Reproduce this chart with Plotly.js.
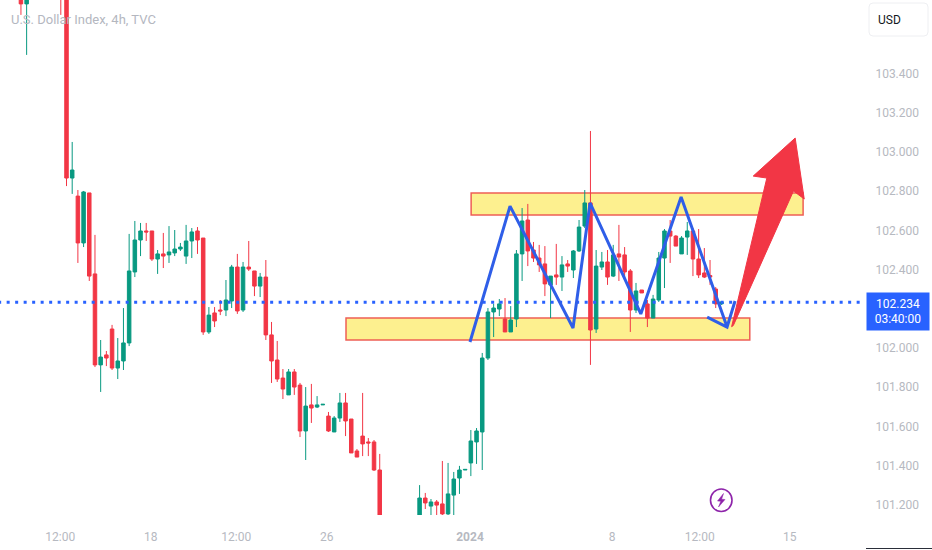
<!DOCTYPE html>
<html>
<head>
<meta charset="utf-8">
<script src="https://cdn.plot.ly/plotly-3.0.1.min.js"></script>
<style>html,body{margin:0;padding:0;background:#fff;overflow:hidden}#chart{width:932px;height:550px}</style>
</head>
<body>
<div id="chart"></div>
<script>
// Candle values (bar index starts at firstBar)
const firstBar = -8;
const openP = [103.80,103.755,103.82,103.90,103.98,103.94,104.00,103.95,103.80,102.867,102.775,102.536,102.791,102.378,101.914,101.965,102.097,101.898,101.934,102.026,102.388,102.551,102.597,102.597,102.454,102.480,102.475,102.485,102.505,102.469,102.546,102.597,102.561,102.082,102.179,102.194,102.194,102.240,102.413,102.194,102.413,102.393,102.316,102.362,102.067,101.939,101.847,101.761,101.878,101.811,101.577,101.710,101.699,101.710,101.653,101.572,101.643,101.720,101.638,101.475,101.551,101.521,101.521,101.378,101.10,101.05,101.00,101.03,100.99,101.04,101.08,101.235,101.194,101.215,101.205,101.154,101.250,101.337,101.378,101.414,101.521,101.572,101.949,102.184,102.199,102.148,102.082,102.148,102.480,102.653,102.500,102.459,102.429,102.322,102.373,102.362,102.429,102.398,102.495,102.622,102.740,102.097,102.413,102.439,102.367,102.480,102.475,102.393,102.194,102.296,102.225,102.153,102.245,102.459,102.597,102.571,102.480,102.566,102.597,102.454,102.383,102.370,102.301,102.225];
const highP = [103.90,103.85,103.95,104.02,104.03,104.05,104.06,103.98,103.85,103.051,102.806,102.801,102.791,102.577,102.041,101.985,102.118,102.051,102.204,102.582,102.648,102.638,102.638,102.597,102.500,102.587,102.622,102.602,102.536,102.628,102.612,102.617,102.561,102.209,102.209,102.245,102.347,102.424,102.480,102.439,102.546,102.393,102.383,102.449,102.133,102.036,101.893,101.893,101.893,101.822,101.801,101.817,101.755,101.713,101.674,101.653,101.771,101.771,101.638,101.485,101.771,101.541,101.531,101.460,101.13,101.09,101.08,101.07,101.09,101.12,101.301,101.261,101.230,101.225,101.424,101.414,101.368,101.399,101.381,101.582,101.592,101.975,102.204,102.225,102.250,102.255,102.214,102.500,102.714,102.735,102.541,102.526,102.520,102.367,102.531,102.469,102.449,102.500,102.653,102.806,103.107,102.500,102.490,102.500,102.526,102.628,102.515,102.403,102.332,102.296,102.245,102.271,102.490,102.607,102.653,102.576,102.571,102.643,102.612,102.607,102.510,102.449,102.311,102.24];
const lowP = [103.699,103.495,103.79,103.86,103.90,103.91,103.90,103.699,102.826,102.786,102.434,102.515,102.342,101.903,101.776,101.908,101.888,101.842,101.888,102.010,102.362,102.469,102.546,102.444,102.378,102.408,102.434,102.469,102.495,102.429,102.459,102.480,102.067,102.072,102.107,102.168,102.163,102.204,102.174,102.184,102.393,102.265,102.260,102.041,101.822,101.827,101.740,101.761,101.761,101.546,101.429,101.618,101.694,101.710,101.572,101.572,101.623,101.551,101.465,101.444,101.449,101.449,101.373,101.06,101.02,100.97,100.96,100.95,100.97,101.00,101.05,101.179,101.12,101.12,101.12,101.12,101.12,101.256,101.378,101.347,101.409,101.378,101.939,102.056,102.163,102.082,102.082,102.107,102.342,102.418,102.439,102.388,102.265,102.153,102.322,102.291,102.388,102.357,102.490,102.612,101.914,102.077,102.398,102.322,102.362,102.342,102.347,102.082,102.179,102.281,102.107,102.153,102.235,102.306,102.434,102.520,102.480,102.475,102.367,102.357,102.357,102.322,102.204,102.22];
const closeP = [103.755,103.80,103.90,103.98,103.94,104.00,103.95,103.80,102.867,102.908,102.536,102.796,102.367,101.914,101.954,101.949,101.898,101.934,102.026,102.393,102.551,102.597,102.592,102.454,102.480,102.469,102.490,102.505,102.515,102.546,102.592,102.551,102.082,102.168,102.138,102.189,102.245,102.413,102.189,102.413,102.403,102.316,102.362,102.067,101.934,101.842,101.791,101.878,101.801,101.577,101.704,101.694,101.710,101.713,101.577,101.643,101.720,101.628,101.465,101.444,101.511,101.516,101.378,101.10,101.05,101.00,101.03,100.99,101.04,101.08,101.235,101.210,101.215,101.199,101.154,101.256,101.332,101.378,101.381,101.526,101.577,101.949,102.184,102.204,102.225,102.082,102.143,102.480,102.648,102.495,102.459,102.424,102.327,102.367,102.362,102.424,102.418,102.495,102.617,102.740,102.092,102.418,102.439,102.362,102.475,102.464,102.388,102.194,102.291,102.281,102.153,102.250,102.459,102.597,102.571,102.520,102.561,102.597,102.454,102.373,102.362,102.362,102.225,102.235];

const lastPrice = 102.234;
const timeTickBars = [-1.1, 14.8, 29.8, 45.7, 70.85, 95.8, 111.2, 127];
const timeTickLabels = ['12:00', '18', '12:00', '26', '<b>2024</b>', '8', '12:00', '15'];
const priceTicks = [101.2, 101.4, 101.6, 101.8, 102.0, 102.4, 102.6, 102.8, 103.0, 103.2, 103.4];
const priceTickLabels = ['101.200', '101.400', '101.600', '101.800', '102.000', '102.400', '102.600', '102.800', '103.000', '103.200', '103.400'];

// Drawn annotations on the chart (bar index / price)
const zigzagBars = [70.85, 77.88, 88.94, 91.93, 100.84, 107.92, 115.99, 112.5, 115.99, 117.39];
const zigzagPrices = [102.031, 102.724, 102.102, 102.740, 102.174, 102.770, 102.107, 102.158, 102.107, 102.240];
const arrowBars = [116.79, 122.97, 120.58, 127.95, 129.54, 127.65, 117.09, 116.79];
const arrowPrices = [102.109, 102.867, 102.877, 103.071, 102.760, 102.801, 102.115, 102.109];
const upperZone = {x: [71.05, 129.34], y: [102.679, 102.791]};
const lowerZone = {x: [49.08, 119.98], y: [102.041, 102.153]};

const bars = openP.map((_, k) => k + firstBar);
const W = 865, H = 515;
const px = x => x / W, py = y => 1 - y / H;
const pPath = pts => pts.map((p, k) => (k ? 'L' : 'M') + px(p[0]).toFixed(5) + ',' + py(p[1]).toFixed(5)).join(' ') + ' Z';

const GREEN = '#089981', RED = '#f23645', BLUE = '#2f5ee8';

const traces = [
  {type: 'candlestick', x: bars, open: openP, high: highP, low: lowP, close: closeP,
   increasing: {line: {color: GREEN, width: 1}, fillcolor: GREEN},
   decreasing: {line: {color: RED, width: 1}, fillcolor: RED},
   whiskerwidth: 0, hoverinfo: 'skip', showlegend: false},
  {type: 'scatter', mode: 'lines', x: [-12, 140.2], y: [lastPrice, lastPrice],
   line: {color: '#2962ff', width: 3, dash: '3px,5.5px'}, hoverinfo: 'skip', showlegend: false},
  {type: 'scatter', mode: 'lines', x: zigzagBars, y: zigzagPrices,
   line: {color: BLUE, width: 3}, hoverinfo: 'skip', showlegend: false},
  {type: 'scatter', mode: 'lines', x: arrowBars, y: arrowPrices, fill: 'toself',
   fillcolor: '#f23645', line: {color: '#f23645', width: 1}, hoverinfo: 'skip', showlegend: false}
];

const zoneShape = z => ({type: 'rect', layer: 'below', xref: 'x', yref: 'y',
  x0: z.x[0], x1: z.x[1], y0: z.y[0], y1: z.y[1],
  fillcolor: '#fdf08f', line: {color: '#ee5f55', width: 1.5}});

// rounded USD box
const ux0 = 869, ux1 = 928, uy0 = 3, uy1 = 36, r = 4;
const usdPath = 'M' + px(ux0 + r) + ',' + py(uy0) + ' L' + px(ux1 - r) + ',' + py(uy0) +
  ' Q' + px(ux1) + ',' + py(uy0) + ' ' + px(ux1) + ',' + py(uy0 + r) +
  ' L' + px(ux1) + ',' + py(uy1 - r) + ' Q' + px(ux1) + ',' + py(uy1) + ' ' + px(ux1 - r) + ',' + py(uy1) +
  ' L' + px(ux0 + r) + ',' + py(uy1) + ' Q' + px(ux0) + ',' + py(uy1) + ' ' + px(ux0) + ',' + py(uy1 - r) +
  ' L' + px(ux0) + ',' + py(uy0 + r) + ' Q' + px(ux0) + ',' + py(uy0) + ' ' + px(ux0 + r) + ',' + py(uy0) + ' Z';

const layout = {
  width: 932, height: 550,
  margin: {l: 0, r: 67, t: 0, b: 35, pad: 0},
  paper_bgcolor: '#ffffff', plot_bgcolor: '#ffffff',
  showlegend: false, dragmode: false, boxgap: 0.12, boxmode: 'overlay',
  xaxis: {type: 'linear', range: [-11.677, 140.21], fixedrange: true, showgrid: false, zeroline: false,
    showline: false, rangeslider: {visible: false}, tickmode: 'array', tickvals: timeTickBars, ticktext: timeTickLabels,
    ticks: 'outside', ticklen: 11, tickcolor: 'rgba(0,0,0,0)',
    tickfont: {family: 'Roboto, sans-serif', size: 12, color: '#b6b9c1'}},
  yaxis: {side: 'right', range: [101.1485, 103.775], fixedrange: true, showgrid: false, zeroline: false,
    showline: false, tickmode: 'array', tickvals: priceTicks, ticktext: priceTickLabels,
    ticks: 'outside', ticklen: 7, tickcolor: 'rgba(0,0,0,0)',
    tickfont: {family: 'Roboto, sans-serif', size: 12, color: '#b6b9c1'}},
  shapes: [
    zoneShape(upperZone), zoneShape(lowerZone),
    {type: 'path', xref: 'paper', yref: 'paper', path: usdPath, fillcolor: '#ffffff', line: {color: '#eeeff2', width: 1}},
    {type: 'line', xref: 'paper', yref: 'paper', x0: px(866), x1: px(932), y0: py(548.5), y1: py(548.5), line: {color: '#2a2e39', width: 1}},
    {type: 'circle', xref: 'paper', yref: 'paper', x0: px(710.5), x1: px(732), y0: py(489), y1: py(511.5), fillcolor: '#ffffff', line: {color: '#8e24aa', width: 1.6}},
    {type: 'path', xref: 'paper', yref: 'paper',
     path: pPath([[723.5, 493.5], [717.5, 501], [720.8, 501.2], [718.5, 507], [725, 499.5], [721.6, 499.2]]),
     fillcolor: '#8e24aa', line: {color: '#8e24aa', width: 0.5}}
  ],
  annotations: [
    {xref: 'paper', yref: 'paper', x: px(9), y: py(20), xanchor: 'left', yanchor: 'middle', showarrow: false,
     text: 'U.S. Dollar Index, 4h, TVC', font: {family: 'Roboto, sans-serif', size: 13, color: '#b4b7bf'}},
    {xref: 'paper', yref: 'paper', x: px(889.5), y: py(20), xanchor: 'center', yanchor: 'middle', showarrow: false,
     text: 'USD', font: {family: 'Roboto, sans-serif', size: 12, color: '#131722'}},
    {xref: 'paper', yref: 'paper', x: px(866), y: py(292), xanchor: 'left', yanchor: 'top', showarrow: false,
     width: 62, height: 37, align: 'center', valign: 'middle', bgcolor: '#2962ff', borderpad: 0,
     text: lastPrice.toFixed(3) + '<br>03:40:00', font: {family: 'Roboto, sans-serif', size: 12, color: '#ffffff'}}
  ]
};

Plotly.newPlot('chart', traces, layout, {displayModeBar: false, staticPlot: true});
</script>
</body>
</html>
